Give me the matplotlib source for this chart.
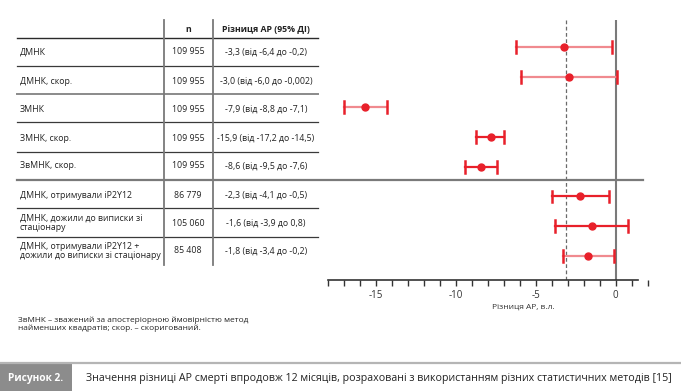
import matplotlib
matplotlib.use("Agg")
import matplotlib.pyplot as plt
from matplotlib.lines import Line2D
from matplotlib.patches import Rectangle
from matplotlib.ticker import MultipleLocator

plt.rcParams['font.family'] = ['Open Sans', 'Noto Sans', 'DejaVu Sans']

# table data
methods = ["ДМНК", "ДМНК, скор.", "ЗМНК", "ЗМНК, скор.", "ЗвМНК, скор.",
           "ДМНК, отримували іP2Y12",
           "ДМНК, дожили до виписки зі\nстаціонару",
           "ДМНК, отримували іP2Y12 +\nдожили до виписки зі стаціонару"]
n_values = ["109 955", "109 955", "109 955", "109 955", "109 955",
            "86 779", "105 060", "85 408"]
ci_text = ["-3,3 (від -6,4 до -0,2)", "-3,0 (від -6,0 до -0,002)",
           "-7,9 (від -8,8 до -7,1)", "-15,9 (від -17,2 до -14,5)",
           "-8,6 (від -9,5 до -7,6)", "-2,3 (від -4,1 до -0,5)",
           "-1,6 (від -3,9 до 0,8)", "-1,8 (від -3,4 до -0,2)"]

# points as drawn in the figure
est = [-3.2, -2.9, -15.65, -7.8, -8.4, -2.2, -1.5, -1.7]
lo = [-6.2, -5.9, -17.0, -8.7, -9.4, -4.0, -3.8, -3.3]
hi = [-0.2, 0.1, -14.3, -7.0, -7.4, -0.4, 0.8, -0.1]
pale = [True, True, True, False, False, False, False, True]
ref_line = -3.1

W, H = 681, 391
fig = plt.figure(figsize=(W / 100, H / 100), dpi=100)

def fx(px):
    return px / W

def fy(py):
    return 1 - py / H

def hline(x0, x1, y, color="#3a3a3a", lw=0.9):
    fig.add_artist(Line2D([fx(x0), fx(x1)], [fy(y), fy(y)], color=color, lw=lw))

def vline(x, y0, y1, color="#7a7a7a", lw=1.3):
    fig.add_artist(Line2D([fx(x), fx(x)], [fy(y0), fy(y1)], color=color, lw=lw))

# forest plot axes
ax_l, ax_r, ax_t, ax_b = 320, 662, 20, 280
ax = fig.add_axes([fx(ax_l), fy(ax_b), fx(ax_r - ax_l), (ax_b - ax_t) / H])
x0_px, ppu = 615.5, 16.0
ax.set_xlim((ax_l - x0_px) / ppu, (ax_r - x0_px) / ppu)
row0, step = 47, 29.9
ax.set_ylim((ax_b - row0) / step, (ax_t - row0) / step)

red = "#e8202a"
for i in range(len(est)):
    lc = "#f08a8f" if pale[i] else red
    ax.plot([lo[i], hi[i]], [i, i], color=lc, lw=1.6, zorder=3)
    ax.plot([lo[i], lo[i]], [i - 0.2, i + 0.2], color=red, lw=1.8, zorder=4)
    ax.plot([hi[i], hi[i]], [i - 0.2, i + 0.2], color=red, lw=1.8, zorder=4)
    ax.plot(est[i], i, "o", color=red, ms=5, zorder=5)

ax.axvline(0, color="#7a7a7a", lw=1.5, zorder=2)
ax.axvline(ref_line, color="#6a6a6a", lw=0.9, ls=(0, (3, 2)), zorder=2)

for s in ["top", "right", "left"]:
    ax.spines[s].set_visible(False)
ax.spines["bottom"].set_bounds(-18, 1.4)
ax.spines["bottom"].set_color("#333333")
ax.spines["bottom"].set_linewidth(1.2)
ax.set_yticks([])
ax.xaxis.set_major_locator(MultipleLocator(5))
ax.xaxis.set_minor_locator(MultipleLocator(1))
ax.set_xticks(range(-15, 1, 5))
ax.set_xticklabels(["-15", "-10", "-5", "0"])
ax.tick_params(axis="x", which="both", direction="out", length=4, width=1,
               color="#333333", labelsize=7, labelcolor="#333333", pad=3)
ax.patch.set_alpha(0)

fig.text(fx(523), fy(307), "Різниця АР, в.л.", fontsize=6, color="#333333",
         ha="center", va="center")

# table
header_y = 30
fig.text(fx(188), fy(header_y), "n", fontsize=6.3, weight="bold", ha="center", va="center", color="#222222")
fig.text(fx(266), fy(header_y), "Різниця АР (95% ДІ)", fontsize=6.3, weight="bold",
         ha="center", va="center", color="#222222")
row_y = [52, 81, 109, 138, 166, 195, 223, 251]
for i in range(len(methods)):
    fig.text(fx(20), fy(row_y[i]), methods[i], fontsize=6.3, ha="left", va="center",
             color="#222222", linespacing=1.05)
    fig.text(fx(188), fy(row_y[i]), n_values[i], fontsize=6.3, ha="center", va="center", color="#222222")
    fig.text(fx(266), fy(row_y[i]), ci_text[i], fontsize=6.3, ha="center", va="center", color="#222222")

hline(17, 318, 38, "#2a2a2a", 1.0)
for y in [66, 122, 152, 208, 237]:
    hline(17, 318, y)
hline(17, 318, 94, "#8a8a8a", 1.4)
hline(17, 643, 180, "#7a7a7a", 1.6)
vline(164, 20, 265)
vline(213, 20, 265)

# footnote
fig.text(fx(18), fy(324), "ЗвМНК – зважений за апостеріорною ймовірністю метод\n"
         "найменших квадратів; скор. – скоригований.", fontsize=5.95, ha="left",
         va="center", color="#222222", linespacing=1.0)

# caption bar
hline(0, W, 362.5, "#b5b5b5", 1.6)
fig.add_artist(Rectangle((0, fy(391)), fx(72), fy(363.5) - fy(391),
                         transform=fig.transFigure, color="#8c8c8c", lw=0))
fig.text(fx(36), fy(378), "Рисунок 2.", fontsize=7.3, weight="bold", color="white",
         ha="center", va="center")
fig.text(fx(86), fy(378), "Значення різниці АР смерті впродовж 12 місяців, розраховані з "
         "використанням різних статистичних методів [15]", fontsize=7.7,
         color="#222222", ha="left", va="center")

fig.savefig("out.png", dpi=100)
